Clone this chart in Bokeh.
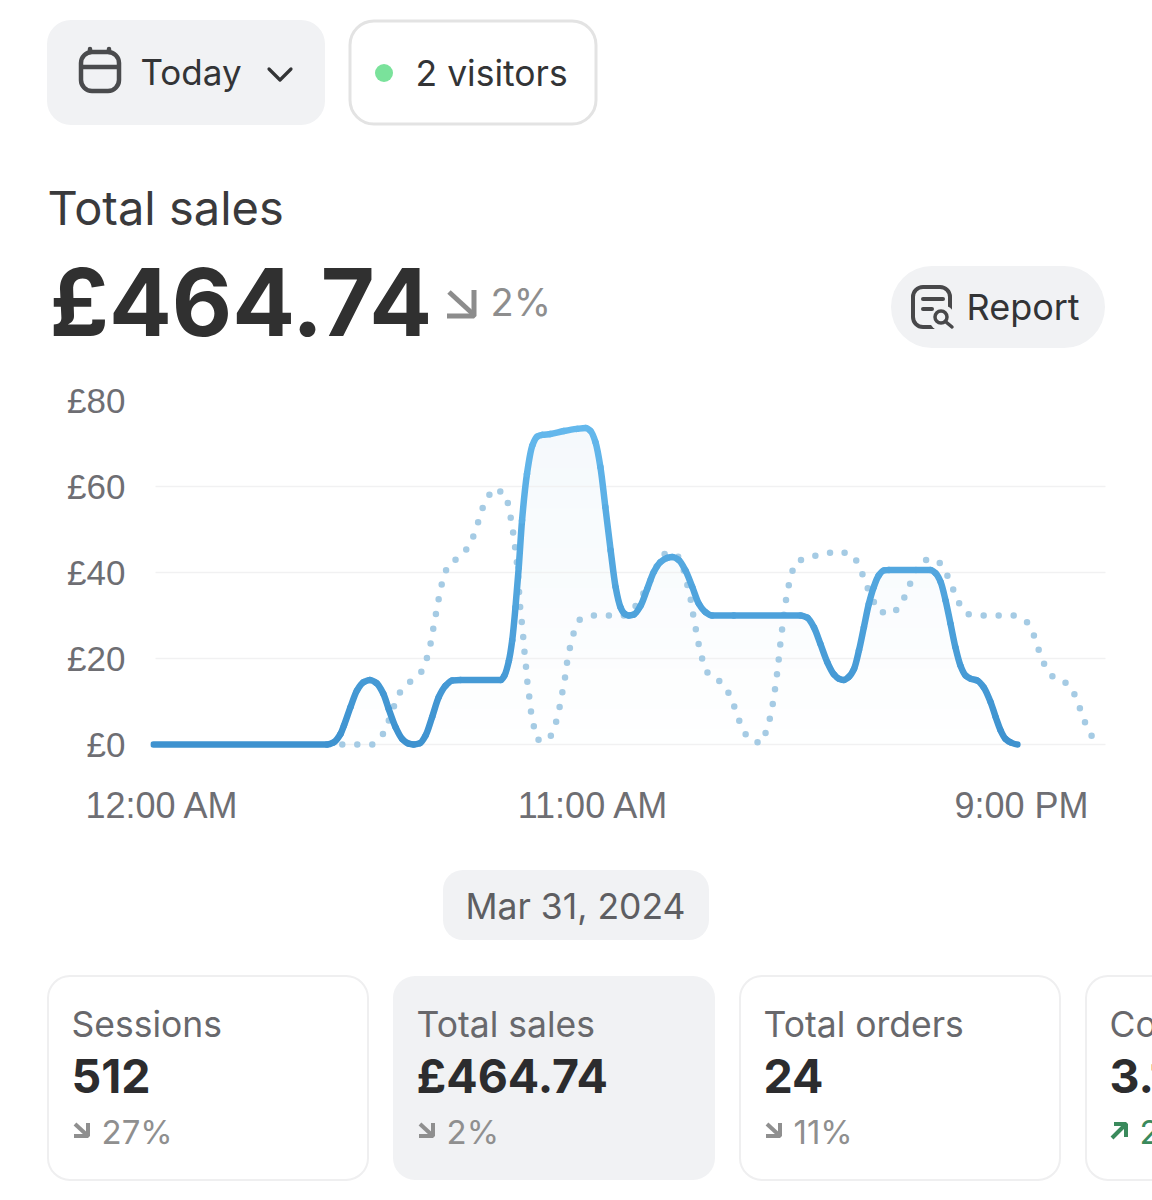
from bokeh.plotting import figure
from bokeh.layouts import column
from bokeh.models import Range1d, FixedTicker, LinearAxis
from bokeh.embed import file_html
from bokeh.resources import INLINE
from bokeh.core.properties import value
import numpy as np

# ---- chart data: hour of day, sales in GBP
today_hours = [0, 4.23, 4.39, 4.56, 4.64, 4.80, 4.96, 5.12, 5.27, 5.43, 5.60, 5.73, 5.90, 6.06, 6.22, 6.34, 6.49, 6.63, 6.79, 6.95, 7.12, 7.28, 7.48, 8.46, 8.55, 8.66, 8.74, 8.82, 8.90, 8.98, 9.10, 9.23, 9.35, 9.47, 9.67, 10.0, 10.32, 10.53, 10.65, 10.77, 10.89, 11.01, 11.14, 11.26, 11.38, 11.48, 11.58, 11.70, 11.87, 12.03, 12.19, 12.35, 12.52, 12.64, 12.80, 12.96, 13.13, 13.29, 13.45, 13.61, 14.14, 15.77, 15.93, 16.09, 16.25, 16.42, 16.58, 16.70, 16.82, 16.94, 17.07, 17.19, 17.31, 17.43, 17.55, 17.67, 17.80, 17.92, 18.93, 19.06, 19.18, 19.30, 19.42, 19.54, 19.66, 19.79, 19.91, 20.07, 20.23, 20.40, 20.52, 20.64, 20.76, 20.88, 21.05]
today_sales = [0, 0, 0.5, 2.5, 4.4, 8.7, 12.6, 14.5, 15.0, 14.3, 11.8, 8.3, 4.0, 1.3, 0.2, 0, 0.3, 2.1, 6.4, 11.0, 13.7, 14.9, 15.0, 15.0, 16.0, 19.5, 24.2, 31.9, 41.2, 52.1, 62.9, 69.5, 71.6, 72.0, 72.2, 72.9, 73.4, 73.6, 72.9, 70.3, 64.5, 55.2, 45.1, 36.6, 31.9, 30.4, 30.0, 30.2, 32.3, 36.2, 40.1, 42.4, 43.4, 43.6, 42.9, 40.5, 36.6, 32.7, 30.8, 30.0, 30, 30, 29.5, 27.3, 23.4, 19.1, 16.3, 15.3, 15.0, 15.7, 17.6, 21.9, 27.3, 32.7, 36.6, 39.3, 40.5, 40.6, 40.6, 39.8, 37.8, 33.5, 28.1, 22.6, 18.4, 16.0, 15.3, 14.9, 13.3, 9.8, 6.4, 3.3, 1.3, 0.5, 0]
yesterday_hours = [4.60, 4.96, 5.34, 5.61, 5.75, 5.88, 6.03, 6.30, 6.56, 6.68, 6.77, 6.83, 6.90, 6.97, 7.05, 7.18, 7.48, 7.71, 7.85, 7.96, 8.08, 8.30, 8.58, 8.67, 8.73, 8.79, 8.83, 8.88, 8.90, 8.92, 8.96, 9.00, 9.03, 9.07, 9.10, 9.15, 9.19, 9.26, 9.36, 9.64, 9.79, 9.88, 9.95, 10.02, 10.07, 10.14, 10.23, 10.39, 10.73, 11.10, 11.46, 11.81, 11.95, 12.09, 12.26, 12.45, 12.76, 12.91, 13.00, 13.09, 13.15, 13.22, 13.29, 13.38, 13.52, 13.83, 14.04, 14.18, 14.30, 14.47, 14.79, 14.95, 15.04, 15.11, 15.16, 15.21, 15.25, 15.29, 15.34, 15.38, 15.45, 15.52, 15.65, 15.99, 16.35, 16.72, 17.07, 17.24, 17.37, 17.51, 17.69, 18.04, 18.26, 18.41, 18.54, 18.77, 19.12, 19.32, 19.47, 19.61, 19.83, 20.22, 20.59, 20.96, 21.29, 21.46, 21.58, 21.72, 21.94, 22.27, 22.47, 22.60, 22.73, 22.91]
yesterday_sales = [0, 0, 0, 2.6, 6.0, 9.4, 12.6, 15.0, 17.2, 20.6, 24.2, 27.7, 31.3, 34.9, 38.4, 41.9, 43.7, 46.4, 49.8, 53.3, 56.7, 59.6, 58.2, 54.8, 51.2, 47.7, 44.1, 40.5, 36.8, 33.2, 29.7, 26.1, 22.4, 18.8, 15.3, 11.6, 8.1, 4.5, 1.1, 1.1, 4.5, 7.9, 11.5, 15.0, 18.7, 22.2, 25.7, 29.1, 30.0, 30.0, 30.0, 32.7, 35.4, 37.8, 41.4, 44.3, 44.2, 40.9, 37.4, 33.7, 30.2, 26.5, 23.0, 19.5, 16.2, 14.5, 11.6, 8.1, 4.8, 1.6, 0.2, 3.4, 6.9, 10.5, 14.0, 17.6, 21.2, 24.9, 28.4, 32.0, 35.6, 39.1, 42.5, 43.6, 44.4, 45.0, 43.8, 40.5, 37.1, 33.9, 30.8, 30.5, 33.4, 36.7, 40.1, 42.9, 42.8, 39.8, 36.4, 33.1, 30.3, 30.0, 30.0, 30.0, 28.4, 25.2, 21.7, 18.3, 15.4, 14.2, 11.2, 7.7, 4.3, 1.1]
y_ticks = [0, 20, 40, 60, 80]
y_labels = ["£0", "£20", "£40", "£60", "£80"]
grid_values = [0, 20, 40, 60]
x_ticks = [0.22, 10.72, 21.15]
x_labels = ["12:00 AM", "11:00 AM", "9:00 PM"]

# ---- page texts
range_label = "Today"
visitors_label = "2 visitors"
headline = "Total sales"
headline_value = "£464.74"
headline_change = "2%"
report_label = "Report"
date_label = "Mar 31, 2024"
card_titles = ["Sessions", "Total sales", "Total orders", "Conversion rate"]
card_values = ["512", "£464.74", "24", "3.1%"]
card_changes = ["27%", "2%", "11%", "2%"]

FONT = value("Inter")
PILL = "#f1f2f4"
INK = "#333436"
BASELINE_FIX = 0.37


def chrome(top, bottom):
    f = figure(width=1152, height=bottom - top, output_backend="svg", toolbar_location=None,
               x_range=Range1d(0.5, 1152.5), y_range=Range1d(bottom + 0.5, top + 0.5), frame_align=False,
               min_border=0, outline_line_color=None, x_axis_location=None, y_axis_location=None)
    f.grid.visible = False
    return f


def label(f, x, y, text, size, color, style="normal"):
    f.text(x=[x - 1.5], y=[y - BASELINE_FIX * size], text=[text], text_font=FONT, text_font_size=f"{size}px",
           text_color=color, text_font_style=style, text_baseline="alphabetic", text_align="left")


def box(f, l, r, t, b, radius, fill=None, stroke=None, width=1):
    f.quad(left=[l], right=[r], top=[t], bottom=[b], border_radius=radius,
           fill_color=fill, fill_alpha=1 if fill else 0, line_color=stroke, line_width=width)


# ---- top part
top = chrome(0, 380)
box(top, 47, 325, 20, 125, 24, fill=PILL)
box(top, 81, 119, 52, 91, 11, stroke="#4a4b4d", width=4.5)
top.line([81, 119], [67, 67], line_color="#4a4b4d", line_width=4.5)
top.segment([90, 109], [52, 52], [90, 109], [49, 49], line_color="#4a4b4d", line_width=4.5, line_cap="round")
label(top, 142, 85, range_label, 35, INK)
top.line([269, 280, 291], [69, 80, 69], line_color=INK, line_width=3.2, line_cap="round", line_join="round")
box(top, 350, 596, 21, 124, 24, fill="#ffffff", stroke="#e3e3e3", width=3)
top.circle(x=[384], y=[73], radius=9, fill_color="#7ae29b", line_color=None)
label(top, 417, 87, visitors_label, 35.5, INK)
label(top, 49, 225, headline, 47, "#3a3a3c")
label(top, 51, 336, headline_value, 93, "#303030", "bold")
top.multi_line([[449, 473], [474, 474, 447]], [[292, 314], [290, 316, 316]], line_color="#8c8c8c", line_width=5)
label(top, 492, 316, headline_change, 38, "#8e8e8e")
box(top, 891, 1105, 266, 348, 41, fill=PILL)
box(top, 913, 950, 287, 327, 10, stroke="#48484a", width=4)
top.circle(x=[942], y=[318], radius=13, fill_color=PILL, line_color=None)
top.circle(x=[941], y=[317], radius=6, fill_color=None, line_color="#48484a", line_width=3.5)
top.line([946, 952], [322, 327], line_color="#48484a", line_width=3.5, line_cap="round")
top.segment([923, 923], [299, 309], [943, 932], [299, 309], line_color="#48484a", line_width=4, line_cap="round")
label(top, 968, 320, report_label, 36, INK)

# ---- chart
PX_X = 41.04
PX_Y = 4.3
chart = figure(width=1152, height=470, output_backend="svg", toolbar_location=None, frame_align=False,
               x_range=Range1d((150 - 153) / PX_X, (1110 - 153) / PX_X),
               y_range=Range1d((744 - 750) / PX_Y, (744 - 395) / PX_Y),
               min_border_left=150, min_border_right=42, min_border_top=15, min_border_bottom=100,
               outline_line_color=None, x_axis_location=None, y_axis_location=None)
chart.grid.visible = False

hx = np.array(today_hours, dtype=float)
hy = np.array(today_sales, dtype=float)

# gradient fill under today's line, painted in bands from the peak down
top_col = np.array([245, 249, 252])
low_col = np.array([255, 255, 255])
peak = hy.max()
for f in np.linspace(1, 0.05, 16):
    c = low_col + (top_col - low_col) * f
    chart.varea(x=hx, y1=0, y2=np.minimum(hy, peak * f),
                fill_color="#%02x%02x%02x" % tuple(int(round(v)) for v in c))

chart.segment(x0=[(155 - 153) / PX_X] * len(grid_values), y0=grid_values,
              x1=[(1105 - 153) / PX_X] * len(grid_values), y1=grid_values,
              line_color="#f1f1f2", line_width=1.6)

chart.line(yesterday_hours, yesterday_sales, line_color="#a5cbe4", line_width=6.5,
           line_dash="0 15", line_cap="round", line_join="round")

# today's line: smooth curve through the read points, coloured by height
dark = np.array([62, 146, 207])
light = np.array([100, 184, 236])
h = np.diff(hx)
d = np.diff(hy) / h
m = np.zeros(len(hx))
for i in range(1, len(hx) - 1):
    if d[i - 1] * d[i] > 0:
        w1, w2 = 2 * h[i] + h[i - 1], h[i] + 2 * h[i - 1]
        m[i] = (w1 + w2) / (w1 / d[i - 1] + w2 / d[i])
mid = (hy[:-1] + hy[1:]) / 2 / peak
cols = ["#%02x%02x%02x" % tuple(int(round(v)) for v in dark + (light - dark) * t) for t in mid]
chart.bezier(x0=hx[:-1], y0=hy[:-1], x1=hx[1:], y1=hy[1:],
             cx0=hx[:-1] + h / 3, cy0=hy[:-1] + m[:-1] * h / 3,
             cx1=hx[1:] - h / 3, cy1=hy[1:] - m[1:] * h / 3,
             line_color=cols, line_width=6.5, line_cap="round")

left_axis = LinearAxis(ticker=FixedTicker(ticks=y_ticks),
                       major_label_overrides=dict(zip(y_ticks, y_labels)))
below_axis = LinearAxis(ticker=FixedTicker(ticks=x_ticks),
                        major_label_overrides=dict(zip(x_ticks, x_labels)))
for ax, standoff, size in ((left_axis, 25, "35px"), (below_axis, 34, "36px")):
    ax.axis_line_color = None
    ax.major_tick_line_color = None
    ax.minor_tick_line_color = None
    ax.major_tick_in = 0
    ax.major_tick_out = 0
    ax.major_label_standoff = standoff
    ax.major_label_text_font = "Liberation Sans"
    ax.major_label_text_font_size = size
    ax.major_label_text_color = "#6e6e73"
chart.add_layout(left_axis, "left")
chart.add_layout(below_axis, "below")

# ---- bottom part
low = chrome(850, 1200)
box(low, 443, 709, 870, 940, 20, fill=PILL)
label(low, 467, 920, date_label, 35.5, "#5e5e62")
card_lefts = [48, 393, 740, 1086]
card_rights = [368, 715, 1060, 1400]
for i in range(4):
    l, r = card_lefts[i], card_rights[i]
    if i == 1:
        box(low, l, r, 976, 1180, 22, fill=PILL)
    else:
        box(low, l, r, 976, 1180, 22, fill="#ffffff", stroke="#efeff0", width=2)
    tx0 = l + 25
    label(low, tx0, 1038, card_titles[i], 35.5, "#68686c")
    label(low, tx0, 1093, card_values[i], 46.5, "#2c2c2e", "bold")
    col = "#3a8a5c" if i == 3 else "#8f8f8f"
    label(low, tx0 + 30, 1144, card_changes[i], 33, col)
    if i == 3:
        low.multi_line([[tx0 + 1, tx0 + 14], [tx0 + 3, tx0 + 15, tx0 + 15]],
                       [[1138, 1125], [1124, 1124, 1137]], line_color=col, line_width=4)
    else:
        low.multi_line([[tx0 + 2, tx0 + 15], [tx0 + 15, tx0 + 15, tx0 + 1]],
                       [[1124, 1136], [1123, 1136, 1136]], line_color=col, line_width=4)

page = column(top, chart, low, spacing=0)
open("out.html", "w").write(file_html(page, INLINE))
